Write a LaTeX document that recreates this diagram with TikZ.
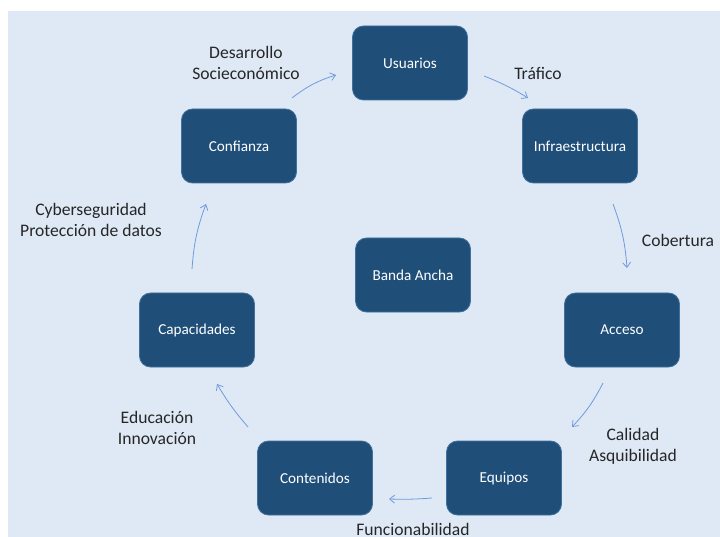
\documentclass[tikz,border=0pt]{standalone}
\usepackage{fontspec}
\setmainfont{Carlito}
\usetikzlibrary{arrows.meta}
\definecolor{bgblue}{HTML}{DEE9F5}
\definecolor{boxblue}{HTML}{1F4E79}
\definecolor{boxline}{HTML}{41719C}
\definecolor{arrblue}{HTML}{6F9BDC}
\definecolor{labtext}{HTML}{262626}
\begin{document}
\begin{tikzpicture}[x=1pt,y=-1pt,
  box/.style={draw=boxline,line width=0.8pt,fill=boxblue,rounded corners=11pt,
    minimum width=115pt,minimum height=74pt,inner sep=0pt,text=white,
    font=\fontsize{15.2}{18}\selectfont},
  lab/.style={align=center,text=labtext,inner sep=0pt,
    font=\fontsize{17.6}{21}\selectfont},
  conn/.style={draw=arrblue,line width=0.8pt,-{Straight Barb[length=5pt,width=8pt]}}]
\useasboundingbox (0,0) rectangle (720,537);
\fill[white] (0,0) rectangle (720,537);
\fill[bgblue] (8,11) rectangle (720,537);

\node[box] (usu) at (410,63) {Usuarios};
\node[box] (inf) at (580,146) {Infraestructura};
\node[box] (con) at (239,146) {Confianza};
\node[box] (ban) at (413,275) {Banda Ancha};
\node[box] (cap) at (197,330) {Capacidades};
\node[box] (acc) at (622,330) {Acceso};
\node[box] (cnt) at (315,478) {Contenidos};
\node[box] (equ) at (504,478) {Equipos};

\node[lab] (l1) at (246,63) {Desarrollo\\Socieconómico};
\node[lab] (l2) at (538,73) {Tráfico};
\node[lab] (l3) at (678,240) {Cobertura};
\node[lab] (l4) at (633,446) {Calidad\\Asquibilidad};
\node[lab] (l5) at (413,529) {Funcionabilidad};
\node[lab] (l6) at (157,428) {Educación\\Innovación};
\node[lab] (l7) at (91,220) {Cyberseguridad\\Protección de datos};

\coordinate (a1s) at (292,98);  \coordinate (a1e) at (336,75);
\coordinate (a2s) at (484,76);  \coordinate (a2e) at (528,98);
\coordinate (a3s) at (613,204); \coordinate (a3e) at (627,268);
\coordinate (a4s) at (603,383); \coordinate (a4e) at (572,427);
\coordinate (a5s) at (432,498); \coordinate (a5e) at (389,499);
\coordinate (a6s) at (248,427); \coordinate (a6e) at (217,384);
\coordinate (a7s) at (192,269); \coordinate (a7e) at (206,204);

\draw[conn] (a1s) to[bend left=10] (a1e);
\draw[conn] (a2s) to[bend left=5] (a2e);
\draw[conn] (a3s) to[bend left=8] (a3e);
\draw[conn] (a4s) to[bend left=8] (a4e);
\draw[conn] (a5s) to[bend left=3] (a5e);
\draw[conn] (a6s) to[bend left=5] (a6e);
\draw[conn] (a7s) to[bend left=8] (a7e);
\end{tikzpicture}
\end{document}
